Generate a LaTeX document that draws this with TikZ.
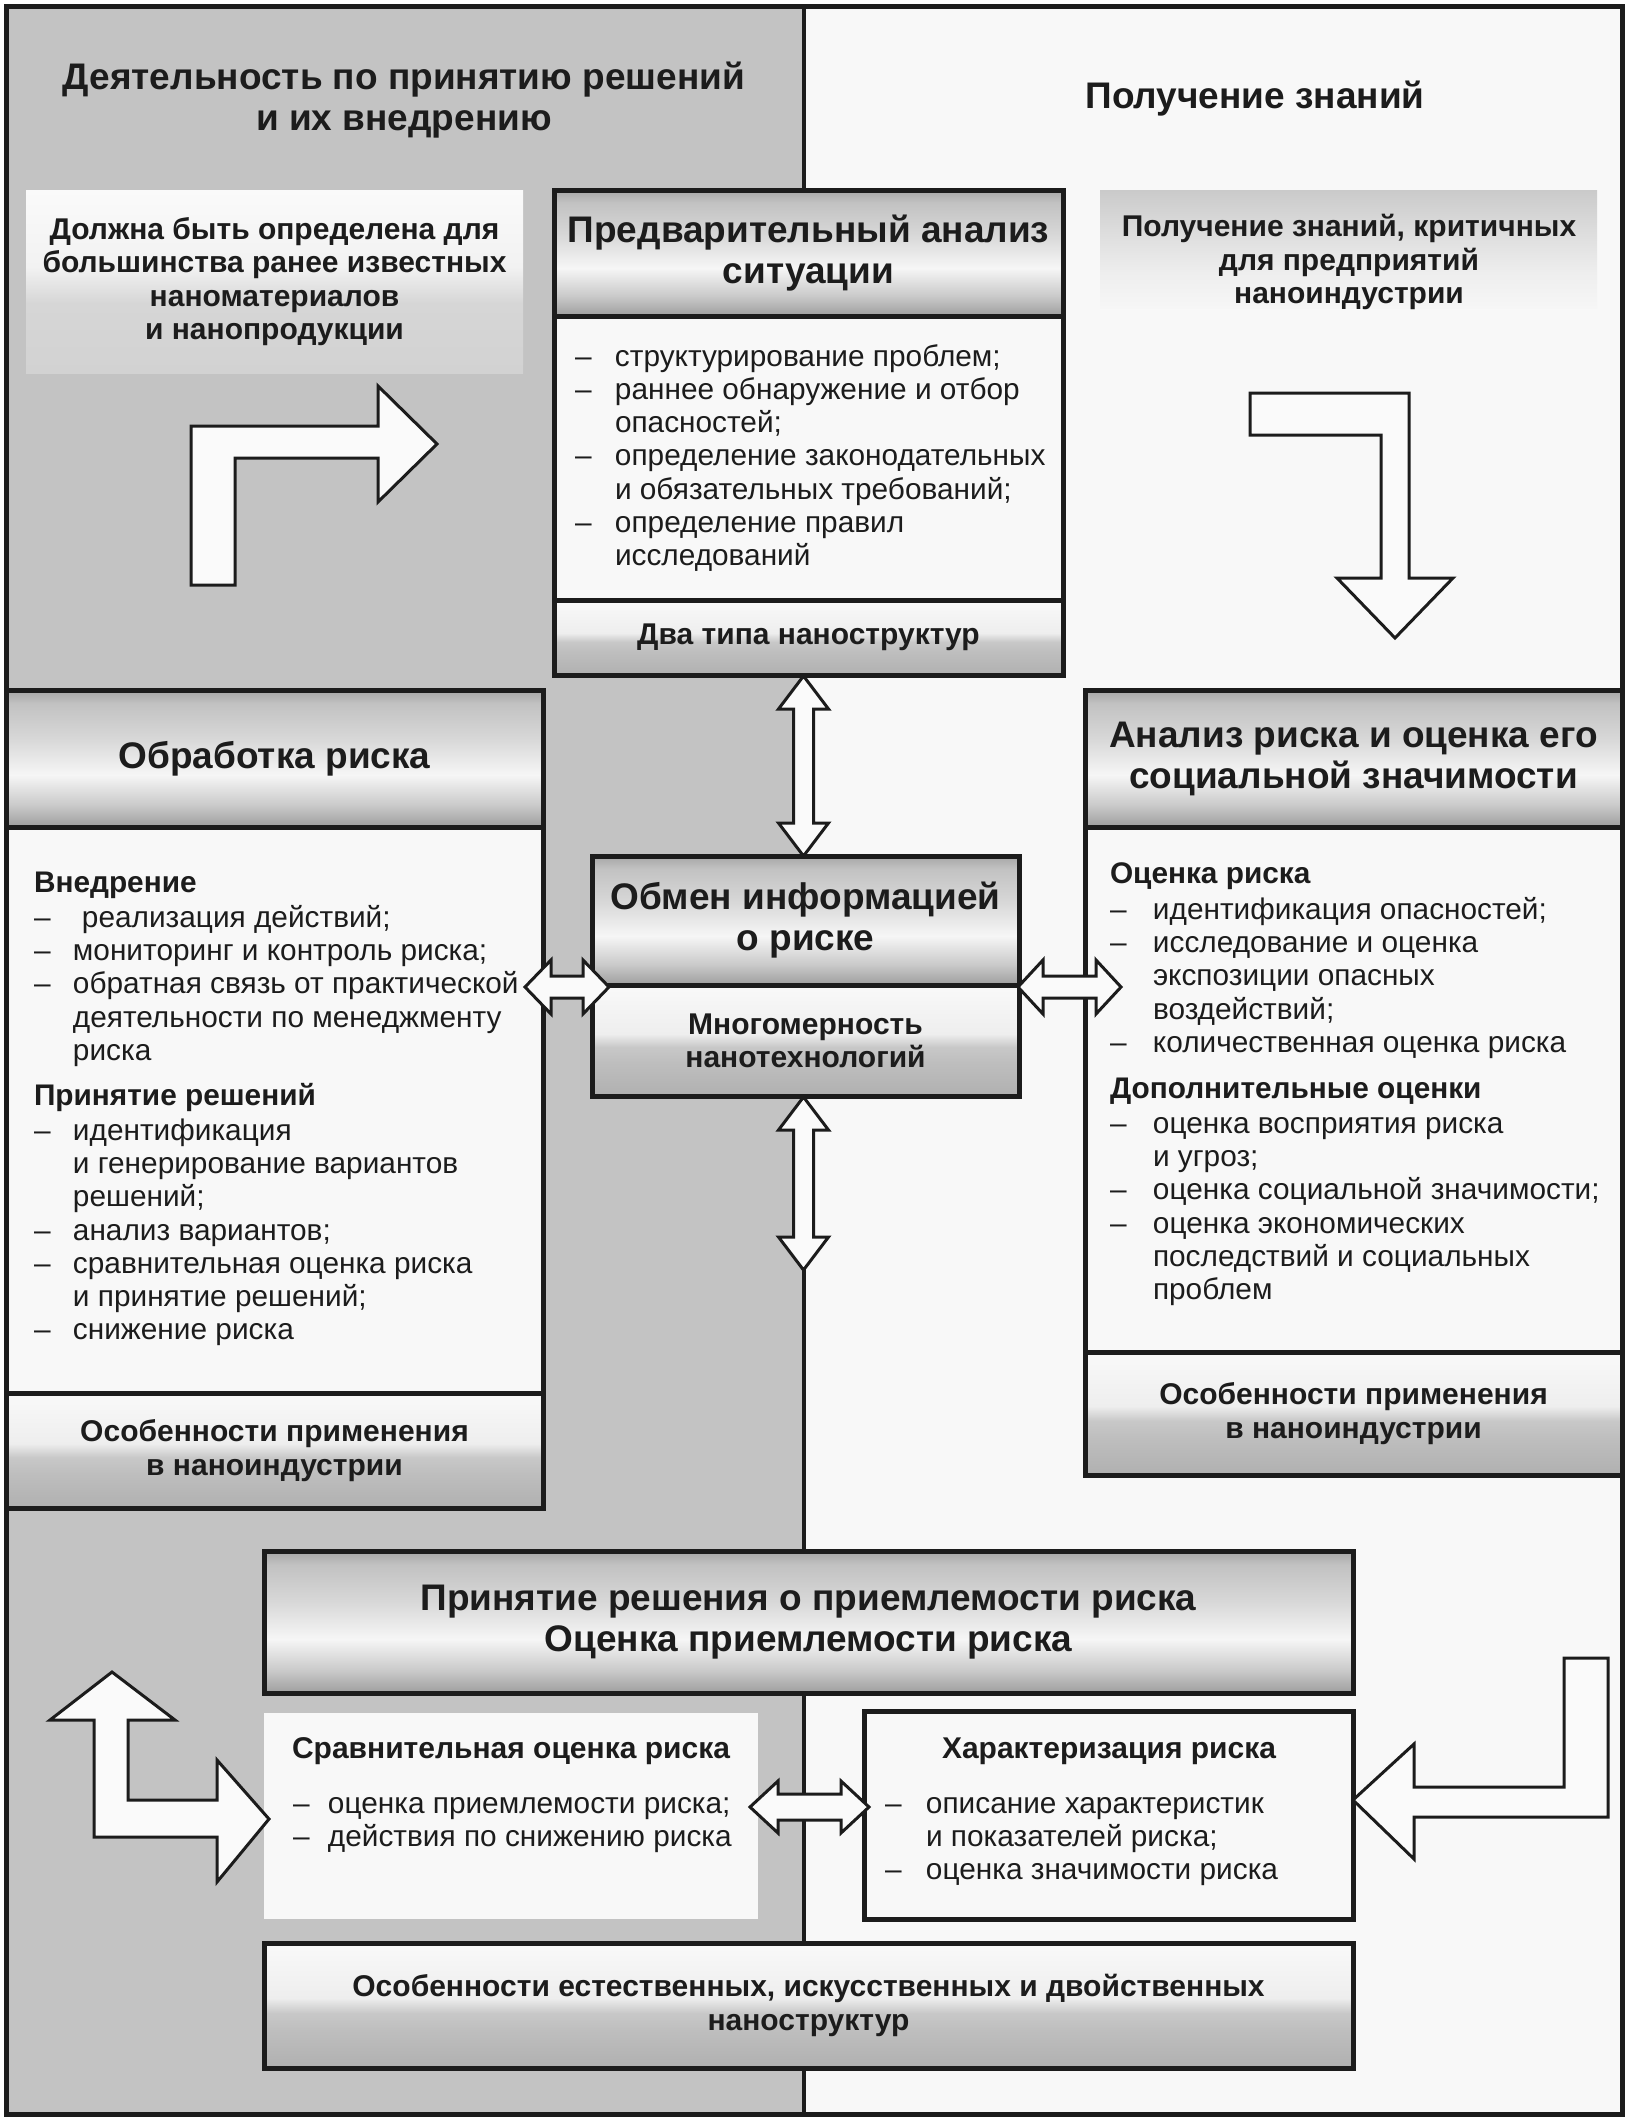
\documentclass[tikz,border=0pt]{standalone}
\usepackage{fontspec}
\setmainfont{Liberation Sans}
\usetikzlibrary{calc}

\definecolor{bgL}{HTML}{C3C3C3}
\definecolor{bgR}{HTML}{F8F8F8}
\definecolor{ink}{HTML}{1C1C1C}
\definecolor{arrowfill}{HTML}{FAFAFA}
% metal header shading
\definecolor{mA}{HTML}{9E9E9E}
\definecolor{mB}{HTML}{CACACA}
\definecolor{mC}{HTML}{F6F6F6}
\definecolor{mD}{HTML}{D8D8D8}
\definecolor{mE}{HTML}{C2C2C2}
\definecolor{mF}{HTML}{A6A6A6}
% footer shading
\definecolor{fA}{HTML}{B0B0B0}
\definecolor{fB}{HTML}{BEBEBE}
\definecolor{fC}{HTML}{C8C8C8}
\definecolor{fD}{HTML}{EEEEEE}
\definecolor{fE}{HTML}{F9F9F9}
% top-left / top-right boxes
\definecolor{tA}{HTML}{D2D2D2}
\definecolor{tB}{HTML}{D6D6D6}
\definecolor{tC}{HTML}{F2F2F2}
\definecolor{tD}{HTML}{FAFAFA}
\definecolor{rA}{HTML}{F6F6F6}
\definecolor{rB}{HTML}{EEEEEE}
\definecolor{rC}{HTML}{DADADA}
\definecolor{rD}{HTML}{CACACA}

\pgfdeclareverticalshading{metal}{100bp}{color(0bp)=(mA); color(25bp)=(mA); color(33bp)=(mB); color(44bp)=(mC); color(57bp)=(mD); color(70bp)=(mE); color(75bp)=(mF); color(100bp)=(mF)}
\pgfdeclareverticalshading{foot}{100bp}{color(0bp)=(fA); color(25bp)=(fA); color(40bp)=(fB); color(47bp)=(fC); color(53bp)=(fD); color(75bp)=(fE); color(100bp)=(fE)}
\pgfdeclareverticalshading{tlshade}{100bp}{color(0bp)=(tA); color(25bp)=(tA); color(44bp)=(tB); color(54bp)=(tC); color(75bp)=(tD); color(100bp)=(tD)}
\pgfdeclareverticalshading{trshade}{100bp}{color(0bp)=(rA); color(25bp)=(rA); color(40bp)=(rB); color(60bp)=(rC); color(75bp)=(rD); color(100bp)=(rD)}

\newcommand\hfnt{\fontsize{37}{41}\selectfont\bfseries}
\newcommand\bfnt{\fontsize{30}{33.3}\selectfont\bfseries}
\newcommand\rfnt{\fontsize{29.8}{33.3}\selectfont}
\newlength\dashw
\newcommand\dd{\makebox[\dashw][l]{–}}
\newcommand\hd[1]{\multicolumn{2}{@{}l@{}}{\bfseries #1}}

% vertical double block arrow: top tip, bottom tip
\newcommand\vdbl[2]{\draw[blk] let \p1=#1, \p2=#2 in
  (\x1,\y1) -- (\x1+25pt,\y1-33pt) -- (\x1+10pt,\y1-33pt) -- (\x1+10pt,\y2+33pt)
  -- (\x1+25pt,\y2+33pt) -- (\x1,\y2) -- (\x1-25pt,\y2+33pt) -- (\x1-10pt,\y2+33pt)
  -- (\x1-10pt,\y1-33pt) -- (\x1-25pt,\y1-33pt) -- cycle;}
% horizontal double block arrow: head length, head half, shaft half, left tip, right tip
\newcommand\hdbl[5]{\draw[blk] let \p1=#4, \p2=#5 in
  (\x1,\y1) -- (\x1+#1pt,\y1+#2pt) -- (\x1+#1pt,\y1+#3pt) -- (\x2-#1pt,\y1+#3pt)
  -- (\x2-#1pt,\y1+#2pt) -- (\x2,\y1) -- (\x2-#1pt,\y1-#2pt) -- (\x2-#1pt,\y1-#3pt)
  -- (\x1+#1pt,\y1-#3pt) -- (\x1+#1pt,\y1-#2pt) -- cycle;}

\tikzset{
  box/.style={draw=ink, line width=5pt, anchor=north west, inner sep=0pt, outer sep=0pt, align=center, text=ink},
  hdr/.style={box, shading=metal, font=\hfnt},
  ftr/.style={box, shading=foot, font=\bfnt},
  bdy/.style={box, fill=bgR},
  txt/.style={anchor=north west, inner sep=0pt, outer sep=0pt, text=ink, font=\rfnt},
  lbl/.style={inner sep=0pt, outer sep=0pt, text=ink, align=center},
  blk/.style={draw=ink, line width=3pt, fill=arrowfill, line join=miter, miter limit=10},
}

\begin{document}
\begin{tikzpicture}[x=1pt,y=-1pt]
\useasboundingbox (0,0) rectangle (1630,2120);
\fill[white] (0,0) rectangle (1630,2120);
\fill[bgR] (804,6) rectangle (1622,2114);
\fill[bgL] (6,6) rectangle (804,2114);
\draw[ink, line width=4pt] (804,6) -- (804,2114);
\draw[ink, line width=5pt] (6,6) rectangle (1622,2114);

% titles
\node[lbl, font=\hfnt] (titleL) at (404,100) {Деятельность по принятию решений\\и их внедрению};
\node[lbl, font=\hfnt, anchor=base] (titleR) at (1255,108) {Получение знаний};

% top-left and top-right note boxes
\node[box, draw=none, shading=tlshade, minimum width=497, minimum height=183, font=\bfnt] (tl) at (26,190)
  {Должна быть определена для\\большинства ранее известных\\наноматериалов\\и нанопродукции};
\node[box, draw=none, shading=trshade, minimum width=497, minimum height=118] (tr) at (1100,190) {};
\node[lbl, font=\bfnt] (trT) at (1349,262) {Получение знаний, критичных\\для предприятий\\наноиндустрии};

% preliminary analysis
\node[bdy, minimum width=509, minimum height=284] (preB) at (554,316) {};
\node[hdr, minimum width=509, minimum height=126] (preH) at (554,190) {Предварительный анализ\\ситуации};
\node[ftr, minimum width=509, minimum height=75] (preF) at (554,600) {Два типа наноструктур};
\node[txt] (preT) at (575,342.7) {\setlength\dashw{40pt}%
\begin{tabular}{@{}l@{}l@{}}
\dd & структурирование проблем;\\
\dd & раннее обнаружение и отбор\\
    & опасностей;\\
\dd & определение законодательных\\
    & и обязательных требований;\\
\dd & определение правил\\
    & исследований
\end{tabular}};

% risk treatment
\node[bdy, minimum width=537, minimum height=566] (obrB) at (6,827) {};
\node[hdr, minimum width=537, minimum height=137] (obrH) at (6,690) {Обработка риска};
\node[ftr, minimum width=537, minimum height=115] (obrF) at (6,1393) {Особенности применения\\в наноиндустрии};
\node[txt] (obrT) at (34,868.7) {\setlength\dashw{39pt}%
\begin{tabular}{@{}l@{}l@{}}
\hd{Внедрение}\\[2pt]
\dd & \hspace{9pt}реализация действий;\\
\dd & мониторинг и контроль риска;\\
\dd & обратная связь от практической\\
    & деятельности по менеджменту\\
    & риска\\[12pt]
\hd{Принятие решений}\\[1pt]
\dd & идентификация\\
    & и генерирование вариантов\\
    & решений;\\
\dd & анализ вариантов;\\
\dd & сравнительная оценка риска\\
    & и принятие решений;\\
\dd & снижение риска
\end{tabular}};

% risk analysis
\node[bdy, minimum width=537, minimum height=525] (anlB) at (1085,827) {};
\node[hdr, minimum width=537, minimum height=137] (anlH) at (1085,690) {Анализ риска и оценка его\\социальной значимости};
\node[ftr, minimum width=537, minimum height=123] (anlF) at (1085,1352) {Особенности применения\\в наноиндустрии};
\node[txt] (anlT) at (1110,859.7) {\setlength\dashw{43pt}%
\begin{tabular}{@{}l@{}l@{}}
\hd{Оценка риска}\\[3pt]
\dd & идентификация опасностей;\\
\dd & исследование и оценка\\
    & экспозиции опасных\\
    & воздействий;\\
\dd & количественная оценка риска\\[13pt]
\hd{Дополнительные оценки}\\[1pt]
\dd & оценка восприятия риска\\
    & и угроз;\\
\dd & оценка социальной значимости;\\
\dd & оценка экономических\\
    & последствий и социальных\\
    & проблем
\end{tabular}};

% information exchange
\node[ftr, minimum width=427, minimum height=111] (infoF) at (592,985) {Многомерность\\нанотехнологий};
\node[hdr, minimum width=427, minimum height=129] (infoH) at (592,856) {Обмен информацией\\о риске};

% acceptability decision
\node[hdr, minimum width=1089, minimum height=142] (dec) at (264,1551) {Принятие решения о приемлемости риска\\Оценка приемлемости риска};
\node[box, draw=none, fill=bgR, minimum width=494, minimum height=206] (cmp) at (264,1713) {};
\node[bdy, minimum width=489, minimum height=208] (chr) at (864,1711) {};
\node[ftr, minimum width=1089, minimum height=125] (feat) at (264,1943) {Особенности естественных, искусственных и двойственных\\наноструктур};

\node[lbl, font=\bfnt, anchor=base] (cmpT) at (511,1758) {Сравнительная оценка риска};
\node[txt] (cmpL) at (293,1789.7) {\setlength\dashw{35pt}%
\begin{tabular}{@{}l@{}l@{}}
\dd & оценка приемлемости риска;\\
\dd & действия по снижению риска
\end{tabular}};
\node[lbl, font=\bfnt, anchor=base] (chrT) at (1109,1758) {Характеризация риска};
\node[txt] (chrL) at (885,1789.7) {\setlength\dashw{41pt}%
\begin{tabular}{@{}l@{}l@{}}
\dd & описание характеристик\\
    & и показателей риска;\\
\dd & оценка значимости риска
\end{tabular}};

% ---- block arrows ----
\coordinate (tlA) at (191,585);
\draw[blk] (tlA) -- ++(0,-159) -- ++(187,0) -- ++(0,-40) -- ++(59,58) -- ++(-59,58)
  -- ++(0,-44) -- ++(-143,0) -- ++(0,127) -- cycle;

\coordinate (trA) at (1250,393);
\draw[blk] (trA) -- ++(159,0) -- ++(0,185) -- ++(44,0) -- ++(-58,60) -- ++(-58,-60)
  -- ++(44,0) -- ++(0,-143) -- ++(-131,0) -- cycle;

\vdbl{($(infoH.north |- preF.south)+(-2,1)$)}{($(infoH.north)+(-2,0)$)}
\coordinate (vEnd) at (803,1270);
\vdbl{($(infoF.south)+(-2,1)$)}{(vEnd)}

\hdbl{26}{27}{11}{($(obrB.east |- infoF.north)+(-18,2)$)}{($(infoF.north west)+(17,2)$)}
\hdbl{25}{27}{11}{($(infoF.north east)+(-1,2)$)}{($(anlB.west |- infoF.north)+(36,2)$)}
\hdbl{28}{26}{13}{($(cmp.east)+(-8,-9)$)}{($(chr.west)+(5,-8)$)}

\coordinate (blA) at (112,1672);
\draw[blk] (blA) -- ++(63,48) -- ++(-47,0) -- ++(0,80) -- ++(89,0) -- ++(0,-40)
  -- ++(52,59) -- ++(-52,63) -- ++(0,-45) -- ++(-123,0) -- ++(0,-117) -- ++(-44,0) -- cycle;

\coordinate (brA) at (1564,1658);
\draw[blk] (brA) -- ++(44,0) -- ++(0,159) -- ++(-194,0) -- ++(0,42) -- ++(-61,-59)
  -- ++(61,-56) -- ++(0,43) -- ++(150,0) -- cycle;
\end{tikzpicture}
\end{document}
